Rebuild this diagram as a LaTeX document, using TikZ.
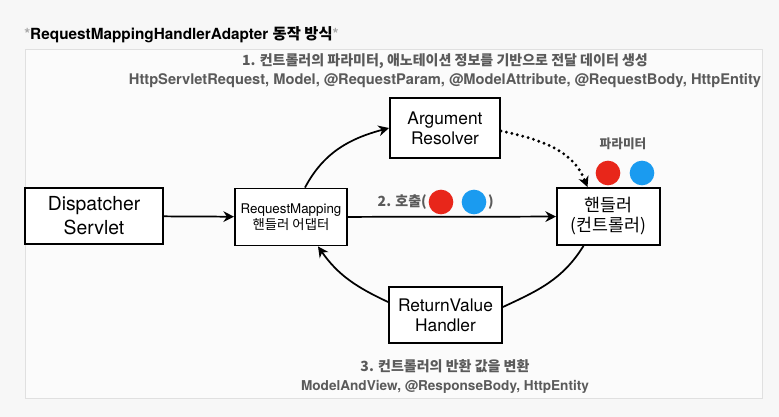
\documentclass[tikz,border=0pt]{standalone}
\usepackage{fontspec}
\setmainfont{TeX Gyre Heros}
\newfontfamily\kr{Noto Sans CJK KR}
\usepackage{tikz}
\usetikzlibrary{positioning,arrows.meta,calc}
\definecolor{dotred}{HTML}{E8261A}
\definecolor{dotblue}{HTML}{1A9BF0}
\definecolor{notegray}{HTML}{5A5A5A}

\begin{document}
\begin{tikzpicture}[x=0.75pt,y=0.75pt,
    box/.style={draw=black, line width=1.4pt, fill=white, align=center, inner sep=0pt, font=\fontsize{13}{15}\selectfont},
    flow/.style={line width=1.3pt, -{Stealth[length=8pt,width=8pt]}},
    note/.style={text=notegray, align=center, font=\fontsize{10.5}{12.5}\selectfont\bfseries},
    dot/.style={circle, inner sep=0pt, minimum size=18.5pt}]
    % Background and frame
    \fill[black!3] (0,0) rectangle (779,417);
    \draw[black!12, fill=black!1.5] (25,19) rectangle (762,368);

    % Title
    \node[anchor=west, inner sep=0pt, font=\fontsize{11.5}{13}\selectfont\bfseries] (title) at (24,382)
        {\textcolor{black!35}{*}RequestMappingHandlerAdapter {\kr 동작 방식}\textcolor{black!35}{*}};

    % Boxes
    \node[box, minimum width=103.5pt, minimum height=42pt, font=\fontsize{14.5}{18}\selectfont] (ds) at (94,201) {Dispatcher\\Servlet};
    \node[box, minimum width=84pt, minimum height=42.75pt, font=\fontsize{10}{12}\selectfont] (rm) at (291,200) {RequestMapping\\{\kr 핸들러 어댑터}};
    \node[box, minimum width=82.5pt, minimum height=45pt] (arg) at (445,289) {Argument\\Resolver};
    \node[box, minimum width=77.25pt, minimum height=42.75pt] (handler) at (608.5,200.5) {{\kr 핸들러}\\{\kr (컨트롤러)}};
    \node[box, minimum width=84.75pt, minimum height=42pt] (rv) at (445.5,102) {ReturnValue\\Handler};

    % Notes
    \node[note] (argnote) at (445,346.5) {{\kr 1. 컨트롤러의 파라미터, 애노테이션 정보를 기반으로 전달 데이터 생성}\\[1.5pt]
        {\fontsize{11}{13}\selectfont HttpServletRequest, Model, @RequestParam, @ModelAttribute, @RequestBody, HttpEntity}};
    \node[note] (rvnote) at (445,40.5) {{\kr 3. 컨트롤러의 반환 값을 변환}\\[1.5pt]
        {\fontsize{10.2}{12}\selectfont ModelAndView, @ResponseBody, HttpEntity}};
    \node[note, font=\fontsize{9.5}{11}\selectfont\bfseries] (paramlabel) at (623,273) {\kr 파라미터};

    % Parameter dots
    \node[dot, fill=dotred] (pred) at (608,244) {};
    \node[dot, fill=dotblue] (pblue) at (642,244) {};
    \node[dot, fill=dotred] (cred) at (441,215) {};
    \node[dot, fill=dotblue] (cblue) at (474,215) {};
    \node[note, anchor=east, inner sep=1pt] (calllabel) at (cred.west) {\kr 2. 호출(};
    \node[note, anchor=west, inner sep=1pt] (callend) at (cblue.east) {\kr )};

    % Connectors
    \draw[flow] (ds) -- (rm);
    \draw[flow] (rm) -- (handler);
    \draw[flow] ($(rm.north)+(14,0)$) to[out=62, in=195] (arg.west);
    \draw[line width=2.4pt, line cap=round, dash pattern=on 0pt off 4.2pt, -{Stealth[length=8pt,width=8pt,line width=0pt]}]
        ($(arg.east)+(0,-3)$) to[out=-12, in=112] ($(handler.north)+(-21,0)$);
    \draw[line width=1.3pt] ($(handler.south)+(-25,0)$) to[out=-122, in=25] ($(rv.east)+(0,8)$);
    \draw[flow] ($(rv.west)+(0,13)$) to[out=155, in=-55] ($(rm.south)+(27,0)$);
\end{tikzpicture}
\end{document}
